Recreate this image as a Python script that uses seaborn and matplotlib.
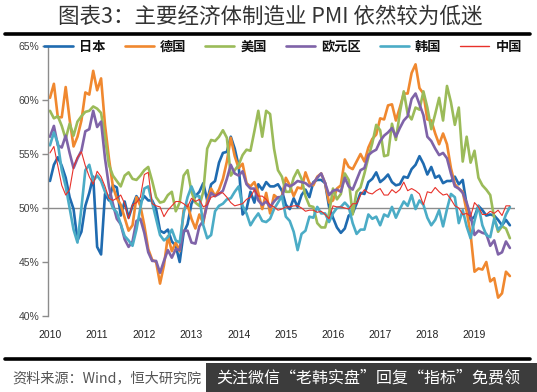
import matplotlib
matplotlib.use("Agg")
import matplotlib.pyplot as plt
import seaborn as sns
import pandas as pd
import numpy as np
from matplotlib.lines import Line2D
from matplotlib.patches import Rectangle

# ---------------- data (monthly, Mar 2010 - Dec 2019) ----------------
year_labels = ["2010", "2011", "2012", "2013", "2014", "2015", "2016", "2017", "2018", "2019"]
series_names = ["日本", "德国", "美国", "欧元区", "韩国", "中国"]

japan = [52.5, 54.0, 54.7, 53.9, 52.8, 51.0, 49.9, 47.0, 47.8, 50.2,
         51.4, 52.9, 46.4, 45.7, 51.3, 50.7, 52.1, 51.9, 49.3, 50.6, 49.1, 50.2,
         51.1, 50.5, 51.1, 50.7, 50.7, 49.9, 47.9, 47.7, 48.0, 46.9, 46.5, 45.0,
         47.7, 48.5, 50.4, 51.1, 51.5, 52.3, 50.7, 52.2, 52.5, 54.2, 55.1, 55.2,
         56.6, 55.5, 53.9, 49.4, 49.9, 51.5, 50.5, 52.2, 51.7, 52.4, 52.0, 52.0,
         52.2, 51.6, 50.3, 49.9, 50.9, 50.1, 51.2, 51.7, 51.0, 52.4, 52.6, 52.6,
         52.3, 50.1, 49.1, 48.2, 47.7, 48.1, 49.3, 49.5, 50.4, 51.4, 51.3, 52.4,
         52.7, 53.3, 52.4, 52.7, 53.1, 52.4, 52.1, 52.2, 52.9, 52.8, 53.6, 54.0,
         54.8, 54.1, 53.1, 53.8, 52.8, 53.0, 52.3, 52.5, 52.5, 52.9, 52.2, 52.6,
         50.3, 48.9, 49.2, 50.2, 49.8, 49.3, 49.4, 49.3, 48.9, 48.4, 48.9, 48.4]

germany = [60.2, 61.5, 58.4, 58.4, 61.2, 58.2, 55.7, 56.6, 58.1, 60.7,
           60.5, 62.7, 60.9, 62.0, 57.7, 54.6, 52.0, 50.9, 50.3, 49.1, 47.9, 48.4,
           51.0, 50.2, 48.4, 46.2, 45.2, 45.0, 43.0, 44.7, 47.4, 46.0, 46.8, 46.0,
           49.8, 50.3, 49.0, 48.1, 49.4, 48.6, 50.7, 51.8, 51.1, 51.7, 52.7, 54.3,
           56.5, 54.8, 53.7, 54.1, 52.3, 52.0, 52.4, 51.4, 49.9, 51.4, 49.5, 51.2,
           50.9, 51.1, 52.8, 52.1, 51.1, 51.9, 51.8, 53.3, 52.3, 52.1, 52.9, 53.2,
           52.3, 50.5, 50.7, 51.8, 52.1, 54.5, 53.8, 53.6, 54.3, 55.0, 54.3, 55.6,
           56.4, 56.8, 58.3, 58.2, 59.5, 59.6, 58.1, 59.3, 60.6, 60.6, 62.5, 63.3,
           61.1, 60.6, 58.2, 58.1, 56.9, 55.9, 56.9, 55.9, 53.7, 52.2, 51.8, 51.5,
           49.7, 47.6, 44.1, 44.4, 44.3, 45.0, 43.2, 43.5, 41.7, 42.1, 44.1, 43.7]

usa = [59.0, 58.3, 58.5, 57.6, 56.4, 57.8, 56.7, 58.0, 58.5, 58.9,
       59.0, 59.4, 59.2, 58.8, 56.5, 54.0, 53.0, 52.5, 52.0, 53.0, 53.3, 52.7,
       52.6, 53.0, 53.5, 53.8, 52.5, 51.0, 50.5, 50.6, 51.2, 51.5, 49.7, 50.5,
       53.0, 53.5, 51.5, 50.5, 50.2, 51.5, 55.5, 56.3, 56.2, 56.6, 57.2, 56.5,
       53.0, 53.5, 54.0, 54.9, 55.4, 55.3, 57.1, 59.0, 56.6, 59.0, 58.7, 55.5,
       53.5, 52.9, 51.5, 51.5, 52.8, 53.5, 52.7, 51.1, 50.2, 50.1, 48.6, 48.2,
       48.2, 49.5, 51.8, 50.8, 51.3, 53.2, 52.6, 49.4, 51.5, 51.9, 53.2, 54.7,
       56.0, 57.7, 57.2, 54.8, 54.9, 57.8, 56.3, 58.8, 60.8, 58.7, 58.2, 59.3,
       59.1, 60.8, 59.3, 57.3, 58.7, 60.2, 58.1, 61.3, 59.8, 57.7, 59.3, 54.3,
       56.6, 54.2, 55.3, 52.8, 52.1, 51.7, 51.2, 49.1, 47.8, 48.3, 48.1, 47.2]

eurozone = [56.6, 57.6, 55.8, 55.6, 56.7, 55.1, 53.7, 54.6, 55.3, 57.1,
            57.3, 59.0, 57.5, 58.0, 54.6, 52.0, 50.4, 49.0, 48.5, 47.1, 46.4, 46.9,
            48.8, 49.0, 47.7, 45.9, 45.1, 45.1, 44.0, 45.1, 46.1, 45.4, 46.2, 46.1,
            47.9, 47.9, 46.8, 46.7, 48.3, 48.8, 50.3, 51.4, 51.1, 51.3, 51.6, 52.7,
            54.0, 53.2, 53.0, 53.4, 52.2, 51.8, 51.8, 50.7, 50.3, 50.6, 50.1, 50.6,
            51.0, 51.0, 52.2, 52.0, 52.2, 52.5, 52.4, 52.3, 52.0, 52.3, 52.8, 53.2,
            52.3, 51.2, 51.6, 51.7, 51.5, 52.8, 52.0, 51.7, 52.6, 53.5, 53.7, 54.9,
            55.2, 55.4, 56.2, 56.7, 57.0, 57.4, 56.6, 57.4, 58.1, 58.5, 60.1, 60.6,
            59.6, 58.6, 56.6, 56.2, 55.5, 54.9, 55.1, 54.6, 53.2, 52.0, 51.8, 51.4,
            50.5, 49.3, 47.5, 47.9, 47.7, 47.6, 46.5, 47.0, 45.7, 45.9, 46.9, 46.3]

korea = [55.8, 57.0, 56.0, 53.5, 52.0, 50.0, 48.0, 46.8, 50.0, 53.5,
         54.0, 52.5, 53.0, 52.5, 51.5, 51.0, 50.0, 49.6, 48.5, 47.4, 47.0, 46.5,
         48.0, 50.0, 51.8, 52.0, 50.5, 49.0, 47.5, 47.0, 47.3, 48.0, 47.0, 46.8,
         49.5, 51.0, 52.0, 51.1, 51.1, 48.4, 47.2, 47.5, 49.7, 50.2, 50.4, 50.8,
         50.9, 51.5, 52.0, 50.2, 49.5, 48.4, 49.0, 49.5, 48.8, 48.7, 49.0, 49.9,
         50.5, 51.1, 49.2, 48.8, 47.8, 46.1, 47.6, 47.9, 49.2, 49.1, 50.1, 49.5,
         49.5, 48.7, 49.5, 50.0, 50.1, 50.5, 50.1, 48.6, 47.6, 48.0, 48.0, 49.4,
         49.0, 49.2, 48.4, 49.4, 49.2, 50.1, 49.1, 49.9, 50.6, 50.2, 51.2, 49.9,
         50.7, 50.3, 49.1, 48.4, 48.9, 49.8, 48.3, 49.9, 51.3, 51.0, 48.6, 49.8,
         48.3, 47.2, 48.8, 50.2, 48.4, 47.5, 47.3, 49.0, 48.0, 48.4, 49.4, 50.1]

china = [55.1, 55.7, 53.9, 52.1, 51.2, 51.7, 53.8, 54.7, 55.2, 53.9,
         52.9, 52.2, 53.4, 52.9, 52.0, 50.9, 50.7, 50.9, 51.2, 50.4, 49.0, 50.3,
         50.5, 51.0, 53.1, 53.3, 50.4, 50.2, 50.1, 49.2, 49.8, 50.2, 50.6, 50.6,
         50.4, 50.1, 50.9, 50.6, 50.8, 50.1, 50.3, 51.0, 51.1, 51.4, 51.4, 51.0,
         50.5, 50.2, 50.3, 50.4, 50.8, 51.0, 51.7, 51.1, 51.1, 50.8, 50.3, 50.1,
         49.8, 49.9, 50.1, 50.1, 50.2, 50.2, 50.0, 49.7, 49.8, 49.8, 49.6, 49.7,
         49.4, 49.0, 50.2, 50.1, 50.1, 50.0, 49.9, 50.4, 50.4, 51.2, 51.7, 51.4,
         51.3, 51.6, 51.8, 51.2, 51.2, 51.7, 51.4, 51.7, 52.4, 51.6, 51.8, 51.6,
         51.3, 50.3, 51.5, 51.4, 51.9, 51.5, 51.2, 51.3, 50.8, 50.2, 50.0, 49.4,
         49.5, 49.2, 50.5, 50.1, 49.4, 49.4, 49.7, 49.5, 49.8, 49.3, 50.2, 50.2]

all_values = [japan, germany, usa, eurozone, korea, china]
colors = ["#1F6BB0", "#F0882F", "#9BBB59", "#7F63A8", "#4BACC6", "#E8312A"]
widths = [1.9, 1.9, 1.9, 1.9, 1.9, 0.8]

# long-format table
frames = []
for name, vals in zip(series_names, all_values):
    frames.append(pd.DataFrame({"month": np.arange(len(vals)), "pmi": vals, "国家": name}))
df = pd.concat(frames, ignore_index=True)

# ---------------- figure ----------------
sns.set_theme(style="white")
plt.rcParams["font.family"] = ["Liberation Sans", "Noto Sans CJK SC", "DejaVu Sans"]

W, H = 537, 392
fig = plt.figure(figsize=(W / 100, H / 100), dpi=100)
ax = fig.add_axes([48 / W, 1 - 316 / H, 467 / W, 270 / H])

for name, c, lw in zip(series_names, colors, widths):
    sub = df[df["国家"] == name]
    sns.lineplot(data=sub, x="month", y="pmi", color=c, linewidth=lw, ax=ax,
                 legend=False, solid_joinstyle="round", solid_capstyle="round")

ax.axhline(50, color="#8C8C8C", linewidth=1.0, zorder=0)

ax.set_xlim(-0.5, 118.3)
ax.set_ylim(40, 65)
ax.set_yticks([40, 45, 50, 55, 60, 65])
ax.set_yticklabels([f"{v}%" for v in [40, 45, 50, 55, 60, 65]])
ax.set_xticks(np.arange(0, 12 * len(year_labels), 12))
ax.set_xticklabels(year_labels)
ax.set_xlabel("")
ax.set_ylabel("")

for s in ["top", "right", "bottom"]:
    ax.spines[s].set_visible(False)
ax.spines["left"].set_color("#8C8C8C")
ax.spines["left"].set_linewidth(1.0)
ax.tick_params(axis="y", direction="out", length=4, width=1.0, color="#8C8C8C",
               labelsize=7.5, labelcolor="#404040", pad=2, left=True)
ax.tick_params(axis="x", length=0, labelsize=7.5, labelcolor="#222222", pad=10)

# legend
handles = [Line2D([0], [0], color=c, linewidth=lw if lw > 1 else 1.0) for c, lw in zip(colors, widths)]
leg = fig.legend(handles, series_names, loc="center", bbox_to_anchor=(283 / W, 1 - 47 / H),
                 ncol=6, frameon=False, handlelength=2.2, handletextpad=0.45,
                 columnspacing=1.45, borderpad=0,
                 prop={"family": ["Noto Sans CJK SC"], "weight": "bold", "size": 9.5})
for t in leg.get_texts():
    t.set_color("#111111")

# title and rules
fig.text(270 / W, 1 - 17 / H, "图表3：主要经济体制造业 PMI 依然较为低迷",
         ha="center", va="center", fontsize=15.5, color="#333333",
         family=["Noto Sans CJK SC", "DejaVu Sans"])
fig.add_artist(Line2D([5 / W, 530 / W], [1 - 34 / H, 1 - 34 / H], color="black", linewidth=2.6))
fig.add_artist(Line2D([5 / W, 530 / W], [1 - 359 / H, 1 - 359 / H], color="black", linewidth=2.6))

fig.text(12 / W, 1 - 378 / H, "资料来源：Wind，恒大研究院", ha="left", va="center",
         fontsize=10.2, color="#555555", family=["Noto Sans CJK SC", "DejaVu Sans"])

# overlay banner
fig.add_artist(Rectangle((206 / W, 0), 1 - 206 / W, 1 - 363 / H, transform=fig.transFigure,
                         facecolor="#3C3C3C", edgecolor="none"))
fig.text(368 / W, 1 - 378 / H, "关注微信“老韩实盘”回复“指标”免费领", ha="center", va="center",
         fontsize=11.5, color="white", family=["Noto Sans CJK SC", "DejaVu Sans"])

fig.savefig("out.png", dpi=100)
